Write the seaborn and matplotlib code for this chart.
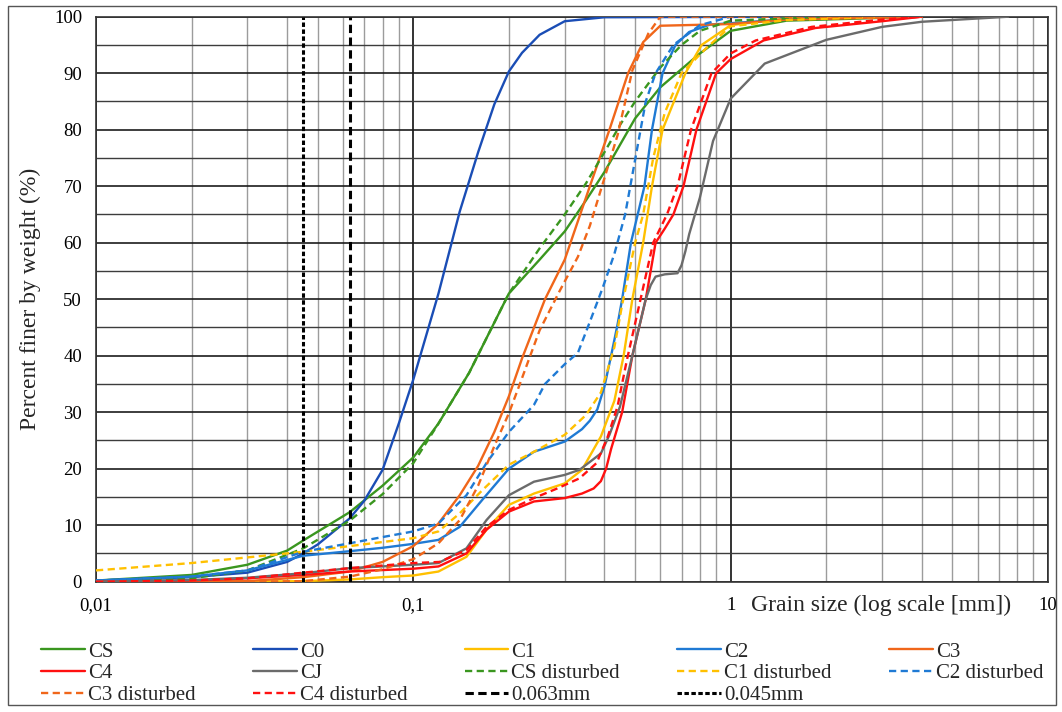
import matplotlib
matplotlib.use("Agg")
import matplotlib.pyplot as plt
import seaborn as sns
from matplotlib.ticker import FixedLocator, FuncFormatter, NullFormatter
from matplotlib.patches import Rectangle

# ---- grain size distributions: sieve size [mm] and percent finer [%] ----
cs_size = [0.01, 0.02, 0.03, 0.04, 0.045, 0.063, 0.08, 0.1, 0.12, 0.15, 0.2, 0.25, 0.3, 0.35, 0.4, 0.5, 0.6, 0.8, 1.0, 1.5, 4.0]
cs_pct = [0.2, 1.2, 3.0, 5.5, 7.3, 12.3, 17.0, 22.0, 28.0, 37.0, 51.0, 57.0, 62.0, 67.5, 72.5, 82.0, 87.5, 93.5, 97.5, 99.3, 100.0]

c0_size = [0.01, 0.02, 0.03, 0.04, 0.045, 0.05, 0.063, 0.07, 0.08, 0.09, 0.1, 0.12, 0.14, 0.16, 0.18, 0.2, 0.22, 0.25, 0.3, 0.4, 2.0]
c0_pct = [0.2, 0.8, 1.6, 3.5, 5.0, 6.6, 11.2, 14.3, 19.8, 28.0, 35.8, 51.0, 65.5, 76.0, 84.5, 90.3, 93.6, 96.8, 99.2, 99.9, 100.0]

c1_size = [0.01, 0.03, 0.045, 0.063, 0.08, 0.1, 0.12, 0.147, 0.17, 0.2, 0.24, 0.3, 0.34, 0.39, 0.43, 0.46, 0.49, 0.53, 0.565, 0.61, 0.72, 0.81, 1.0, 1.5, 4.0]
c1_pct = [0.0, 0.0, 0.1, 0.4, 0.8, 1.1, 1.8, 4.4, 9.2, 13.6, 15.6, 17.4, 19.8, 25.7, 32.0, 40.0, 50.0, 60.0, 70.0, 80.0, 90.0, 95.0, 98.5, 99.7, 100.0]

c2_size = [0.01, 0.02, 0.03, 0.045, 0.063, 0.08, 0.1, 0.12, 0.14, 0.165, 0.2, 0.24, 0.3, 0.34, 0.36, 0.38, 0.4, 0.42, 0.44, 0.455, 0.485, 0.535, 0.565, 0.61, 0.67, 0.74, 0.86, 2.0]
c2_pct = [0.2, 0.9, 2.0, 4.6, 5.4, 6.0, 6.7, 7.4, 9.7, 14.5, 20.0, 23.0, 24.8, 27.0, 28.5, 30.5, 34.5, 40.0, 45.5, 50.0, 60.0, 70.0, 80.0, 90.0, 95.0, 97.3, 98.6, 100.0]

c3_size = [0.01, 0.03, 0.045, 0.063, 0.08, 0.1, 0.12, 0.14, 0.16, 0.18, 0.2, 0.22, 0.26, 0.3, 0.36, 0.415, 0.475, 0.53, 0.6, 1.0, 1.5, 4.0]
c3_pct = [0.0, 0.1, 0.8, 1.8, 3.5, 6.3, 10.3, 15.3, 20.5, 26.5, 32.8, 39.5, 50.0, 57.0, 70.0, 80.0, 90.0, 95.5, 98.4, 98.7, 99.5, 100.0]

c4_size = [0.01, 0.02, 0.03, 0.045, 0.063, 0.1, 0.12, 0.147, 0.17, 0.2, 0.24, 0.3, 0.34, 0.37, 0.39, 0.405, 0.42, 0.455, 0.49, 0.54, 0.58, 0.62, 0.66, 0.71, 0.78, 0.9, 1.0, 1.27, 1.85, 3.0, 4.0]
c4_pct = [0.0, 0.2, 0.6, 1.2, 1.8, 2.3, 2.7, 5.0, 9.2, 12.4, 14.2, 14.8, 15.6, 16.5, 17.8, 20.0, 23.5, 30.0, 40.0, 50.0, 60.0, 62.5, 65.0, 70.0, 80.0, 90.0, 92.5, 95.8, 98.0, 99.2, 100.0]

cj_size = [0.01, 0.02, 0.03, 0.045, 0.063, 0.1, 0.12, 0.147, 0.17, 0.2, 0.24, 0.3, 0.334, 0.39, 0.415, 0.448, 0.49, 0.54, 0.56, 0.58, 0.62, 0.68, 0.7, 0.72, 0.74, 0.8, 0.88, 1.0, 1.28, 2.0, 3.0, 4.0, 7.5]
cj_pct = [0.0, 0.3, 0.7, 1.5, 2.4, 3.0, 3.3, 5.9, 10.9, 15.3, 17.7, 18.9, 19.8, 22.7, 26.0, 31.0, 40.0, 50.0, 52.5, 54.0, 54.4, 54.6, 56.0, 58.5, 61.5, 68.0, 78.0, 85.5, 91.7, 95.9, 98.2, 99.1, 100.0]

csd_size = [0.01, 0.02, 0.03, 0.045, 0.063, 0.08, 0.1, 0.12, 0.15, 0.2, 0.25, 0.3, 0.35, 0.4, 0.45, 0.5, 0.6, 0.7, 0.8, 1.0, 2.0]
csd_pct = [0.1, 0.6, 2.0, 5.9, 10.8, 15.5, 21.0, 28.0, 37.0, 51.0, 59.0, 65.0, 70.5, 76.0, 81.0, 85.0, 91.0, 95.0, 97.5, 99.3, 100.0]

c1d_size = [0.01, 0.02, 0.03, 0.045, 0.063, 0.1, 0.12, 0.14, 0.165, 0.2, 0.24, 0.3, 0.35, 0.39, 0.43, 0.455, 0.5, 0.53, 0.57, 0.62, 0.7, 0.84, 1.0, 1.5, 3.0]
c1d_pct = [2.0, 3.3, 4.3, 5.3, 6.3, 7.7, 8.9, 12.1, 16.2, 20.7, 23.0, 26.0, 29.5, 33.5, 41.5, 49.0, 60.0, 65.0, 75.0, 83.0, 90.0, 94.5, 98.3, 99.4, 100.0]

c2d_size = [0.01, 0.02, 0.03, 0.045, 0.063, 0.08, 0.1, 0.12, 0.147, 0.17, 0.2, 0.24, 0.26, 0.3, 0.33, 0.36, 0.395, 0.43, 0.465, 0.54, 0.58, 0.66, 0.8, 1.0]
c2d_pct = [0.2, 0.9, 2.0, 5.3, 6.8, 7.9, 8.9, 10.3, 15.3, 21.0, 26.5, 31.3, 35.0, 38.5, 40.5, 46.0, 52.0, 58.0, 65.0, 85.0, 90.0, 95.0, 98.5, 100.0]

c3d_size = [0.01, 0.03, 0.045, 0.063, 0.08, 0.1, 0.12, 0.14, 0.16, 0.18, 0.2, 0.215, 0.25, 0.29, 0.33, 0.36, 0.44, 0.49, 0.55, 0.6, 4.0]
c3d_pct = [0.0, 0.0, 0.1, 0.9, 2.2, 4.0, 6.8, 10.9, 17.0, 24.0, 29.8, 34.5, 44.5, 51.6, 57.5, 63.0, 79.0, 90.5, 97.0, 100.0, 100.0]

c4d_size = [0.01, 0.02, 0.03, 0.045, 0.063, 0.1, 0.121, 0.147, 0.17, 0.2, 0.24, 0.284, 0.334, 0.378, 0.41, 0.44, 0.47, 0.52, 0.57, 0.63, 0.68, 0.75, 0.87, 1.0, 1.2, 1.8, 3.0, 4.0]
c4d_pct = [0.0, 0.2, 0.6, 1.6, 2.4, 3.3, 3.5, 5.6, 9.7, 12.7, 14.8, 16.5, 18.3, 21.0, 25.7, 31.0, 39.0, 50.0, 60.0, 65.0, 70.0, 80.0, 90.0, 93.5, 95.8, 98.2, 99.5, 100.0]

limit_sizes = [0.063, 0.045]
limit_labels = ["0.063mm", "0.045mm"]

x_ticks = [0.01, 0.1, 1, 10]
y_ticks = list(range(0, 101, 10))

# colours and line styles
GREEN, NAVY, AMBER, BLUE, ORANGE, RED, GREY = (
    "#3a961f", "#1a4db5", "#ffc000", "#1f7ad4", "#f0661a", "#ff1010", "#6b6b6b")
DASH = (0, (5.2, 3.2))

series = [
    ("CS", cs_size, cs_pct, GREEN, "-"),
    ("C0", c0_size, c0_pct, NAVY, "-"),
    ("C1", c1_size, c1_pct, AMBER, "-"),
    ("C2", c2_size, c2_pct, BLUE, "-"),
    ("C3", c3_size, c3_pct, ORANGE, "-"),
    ("C4", c4_size, c4_pct, RED, "-"),
    ("CJ", cj_size, cj_pct, GREY, "-"),
    ("CS disturbed", csd_size, csd_pct, GREEN, DASH),
    ("C1 disturbed", c1d_size, c1d_pct, AMBER, DASH),
    ("C2 disturbed", c2d_size, c2d_pct, BLUE, DASH),
    ("C3 disturbed", c3d_size, c3d_pct, ORANGE, DASH),
    ("C4 disturbed", c4d_size, c4d_pct, RED, DASH),
]

sns.set_theme(style="white")
plt.rcParams["font.family"] = ["Liberation Serif", "DejaVu Serif"]
plt.rcParams["lines.scale_dashes"] = False
plt.rcParams["lines.solid_joinstyle"] = "round"
plt.rcParams["lines.dash_joinstyle"] = "round"

fig = plt.figure(figsize=(10.62, 7.12), dpi=100)
ax = fig.add_axes([96 / 1062, 1 - 581.7 / 712, 952 / 1062, 565 / 712])
ax.set_xscale("log")

for name, xs, ys, col, ls in series:
    sns.lineplot(x=xs, y=ys, ax=ax, color=col, linestyle=ls, linewidth=1.7,
                 estimator=None, sort=False, label=name, zorder=3)

ax.axvline(limit_sizes[0], color="black", linewidth=2.2, linestyle=(0, (6, 3.2)),
           label=limit_labels[0], zorder=4)
ax.axvline(limit_sizes[1], color="black", linewidth=2.2, linestyle=(0, (3.2, 1.8)),
           label=limit_labels[1], zorder=4)

ax.set_xlim(0.01, 10)
ax.set_ylim(0, 100)

ax.xaxis.set_major_locator(FixedLocator(x_ticks))
minor = [m * d for d in (0.01, 0.1, 1) for m in range(2, 10)]
ax.xaxis.set_minor_locator(FixedLocator(minor))
ax.xaxis.set_minor_formatter(NullFormatter())
ax.xaxis.set_major_formatter(FuncFormatter(lambda v, p: f"{v:g}".replace(".", ",")))
ax.yaxis.set_major_locator(FixedLocator(y_ticks))
ax.yaxis.set_minor_locator(FixedLocator(list(range(5, 100, 10))))
ax.yaxis.set_minor_formatter(NullFormatter())

ax.grid(which="major", axis="x", color="#111111", linewidth=1.2, zorder=1)
ax.grid(which="minor", axis="x", color="#9c9c9c", linewidth=1.0, zorder=1)
ax.grid(which="major", axis="y", color="#1c1c1c", linewidth=1.2, zorder=1)
ax.grid(which="minor", axis="y", color="#3c3c3c", linewidth=1.0, zorder=1)
ax.set_axisbelow(True)

ax.tick_params(axis="both", which="both", length=0, labelsize=13.5, colors="black")
ax.tick_params(axis="x", pad=11)
ax.tick_params(axis="y", pad=10)
for sp in ax.spines.values():
    sp.set_color("#333333")
    sp.set_linewidth(1.2)

ax.set_xlabel("")
ax.set_ylabel("Percent finer by weight (%)", fontsize=17, labelpad=9)
ax.annotate("Grain size (log scale [mm])", xy=(1.16, -0.0415),
            xycoords=("data", "axes fraction"), ha="left", va="center", fontsize=17)

# legend laid out row by row in five columns
handles, labels = ax.get_legend_handles_labels()
if ax.get_legend() is not None:
    ax.get_legend().remove()
lookup = dict(zip(labels, handles))
order = ["CS", "C4", "C3 disturbed",
         "C0", "CJ", "C4 disturbed",
         "C1", "CS disturbed", "0.063mm",
         "C2", "C1 disturbed", "0.045mm",
         "C3", "C2 disturbed"]
fig.legend([lookup[k] for k in order], order, loc="upper left",
           bbox_to_anchor=(41 / 1062, 1 - 642 / 712), ncol=5, frameon=False,
           fontsize=15, handlelength=2.1, handletextpad=0.15, columnspacing=2.75,
           labelspacing=0.1, borderaxespad=0, borderpad=0)

fig.patches.append(Rectangle((8 / 1062, 1 - 705 / 712), 1048 / 1062, 699 / 712,
                             transform=fig.transFigure, fill=False,
                             edgecolor="#555555", linewidth=1.0))

fig.savefig("out.png", dpi=100)
